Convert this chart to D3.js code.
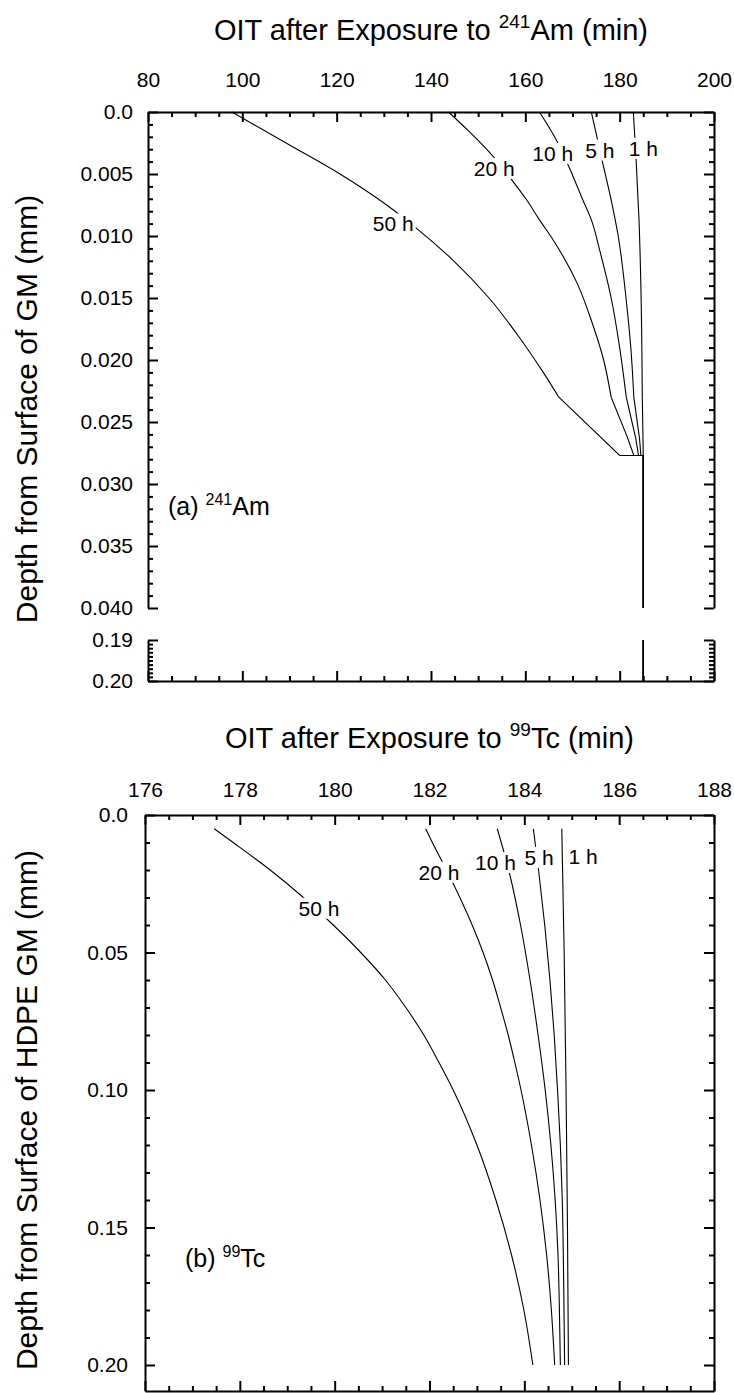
<!DOCTYPE html>
<html><head><meta charset="utf-8">
<script src="https://cdn.jsdelivr.net/npm/d3@7"></script>
<style>
body{margin:0;background:#fff}
svg{display:block}
text{font-family:"Liberation Sans",Arial,Helvetica,sans-serif;fill:#000}
</style></head><body>
<svg id="chart" width="734" height="1393"></svg>
<script>
// ---------------- DATA ----------------
// Panel (a) 241Am : [depth (mm), OIT (min)]
const amSeriesNames = ["50 h","20 h","10 h","5 h","1 h"];
const am50h = [[0,97.8],[0.0027,110.2],[0.005,120.7],[0.0075,130.6],[0.0094,137.0],[0.012,144.8],[0.015,152.3],[0.018,158.4],[0.021,163.8],[0.023,167.1],[0.0277,180.0]];
const am20h = [[0,143.7],[0.00147,147.8],[0.00334,152.6],[0.00561,157.4],[0.0071,160.3],[0.0087,163.0],[0.01032,165.9],[0.01382,171.0],[0.01704,174.2],[0.02,176.6],[0.023,178.2],[0.0262,181.6],[0.0277,183.0]];
const am10h = [[0,163.0],[0.00227,166.6],[0.00455,169.4],[0.0071,172.2],[0.0087,174.0],[0.0112,175.8],[0.015,178.2],[0.019,180.0],[0.023,181.4],[0.0263,183.4],[0.0277,184.0]];
const am5h  = [[0,174.0],[0.0041,176.4],[0.0071,178.2],[0.0098,179.6],[0.0152,181.4],[0.0192,182.4],[0.023,183.0],[0.0263,184.2],[0.0277,184.5]];
const am1h  = [[0,182.9],[0.004,183.5],[0.0087,184.1],[0.0141,184.5],[0.023,184.8],[0.0277,185.0]];
const amKinkDepth = 0.023;
const amBaselineOIT = 185.0;
const amUpperMaxDepth = 0.040;
const amLowerDepths = [0.19, 0.20];
const amLabelPos = [[132.0,0.00903],[153.4,0.00455],[165.8,0.00334],[175.8,0.00307],[185.0,0.00294]]; // [OIT, depth]

// Panel (b) 99Tc : [depth (mm), OIT (min)]
const tcSeriesNames = ["50 h","20 h","10 h","5 h","1 h"];
const tc50h = [[0.005,177.46],[0.01,177.86],[0.02,178.64],[0.03,179.34],[0.04,179.97],[0.05,180.55],[0.06,181.07],[0.07,181.5],[0.08,181.88],[0.09,182.2],[0.10,182.5],[0.12,183.0],[0.14,183.4],[0.16,183.73],[0.18,183.99],[0.2,184.18]];
const tc20h = [[0.005,181.92],[0.01,182.06],[0.02,182.36],[0.03,182.64],[0.04,182.9],[0.05,183.13],[0.06,183.33],[0.07,183.5],[0.08,183.66],[0.09,183.8],[0.10,183.93],[0.12,184.15],[0.14,184.33],[0.16,184.47],[0.18,184.57],[0.2,184.64]];
const tc10h = [[0.005,183.43],[0.02,183.67],[0.04,183.92],[0.06,184.12],[0.08,184.29],[0.10,184.44],[0.12,184.56],[0.14,184.65],[0.16,184.71],[0.18,184.74],[0.2,184.76]];
const tc5h  = [[0.005,184.19],[0.02,184.3],[0.04,184.43],[0.06,184.54],[0.08,184.63],[0.10,184.7],[0.12,184.76],[0.14,184.8],[0.17,184.83],[0.2,184.85]];
const tc1h  = [[0.005,184.79],[0.05,184.84],[0.1,184.88],[0.15,184.91],[0.2,184.93]];
const tcLabelPos = [[179.67,0.0339],[182.2,0.0208],[183.39,0.0173],[184.31,0.0154],[185.24,0.0152]];

// Tick values / labels
const xTicksA = [80,100,120,140,160,180,200];
const xLabelsA = ["80","100","120","140","160","180","200"];
const yTicksAUpper = [0,0.005,0.010,0.015,0.020,0.025,0.030,0.035,0.040];
const yLabelsAUpper = ["0.0","0.005","0.010","0.015","0.020","0.025","0.030","0.035","0.040"];
const yTicksALower = [0.19,0.20];
const yLabelsALower = ["0.19","0.20"];
const xTicksB = [176,178,180,182,184,186,188];
const xLabelsB = ["176","178","180","182","184","186","188"];
const yTicksB = [0,0.05,0.10,0.15,0.20];
const yLabelsB = ["0.0","0.05","0.10","0.15","0.20"];

// ---------------- LAYOUT ----------------
const svg = d3.select("#chart");
const TICK_FS = 21, LABEL_FS = 21, TITLE_FS = 29, YTITLE_FS = 30, PANEL_FS = 25;
const MAJ = 10, MIN = 5;

const A = {l:148, r:714, t:112, uB:608, lT:640, b:681};
const B = {l:145, r:714, t:815, b:1391};

const xA = d3.scaleLinear().domain([80,200]).range([A.l, A.r]);
const yAu = d3.scaleLinear().domain([0,0.04]).range([A.t, A.uB]);
const yAl = d3.scaleLinear().domain([0.19,0.20]).range([A.lT, A.b]);
const xB = d3.scaleLinear().domain([176,188]).range([B.l, B.r]);
const yB = d3.scaleLinear().domain([0,0.2]).range([B.t, 1365]);

function range(a,b,s){const o=[];for(let v=a;v<=b+1e-9;v+=s)o.push(+v.toFixed(6));return o;}

function styleAxis(g, fs){
  g.selectAll("path.domain").attr("stroke","#000").attr("stroke-width",2);
  g.selectAll(".tick line").attr("stroke","#000").attr("stroke-width",2);
  g.selectAll(".tick text").attr("font-size",fs).attr("font-family",'"Liberation Sans",Arial,sans-serif').attr("fill","#000");
  g.attr("font-size",fs);
}
function addAxis(axis, tx, ty, noDomain){
  const g = svg.append("g").attr("transform",`translate(${tx},${ty})`).call(axis);
  styleAxis(g, TICK_FS);
  if(noDomain) g.select("path.domain").remove();
  return g;
}

// ----- Panel A axes -----
const minorA = range(80,200,5).filter(v=>v%20);
addAxis(d3.axisTop(xA).tickValues(xTicksA).tickFormat((d,i)=>xLabelsA[i]).tickSizeInner(-MAJ).tickSizeOuter(0).tickPadding(25), 0, A.t);
addAxis(d3.axisTop(xA).tickValues(minorA).tickFormat("").tickSizeInner(-MIN).tickSizeOuter(0), 0, A.t, true);
addAxis(d3.axisBottom(xA).tickValues(xTicksA).tickFormat("").tickSizeInner(-MAJ).tickSizeOuter(0), 0, A.b);
addAxis(d3.axisBottom(xA).tickValues(minorA).tickFormat("").tickSizeInner(-MIN).tickSizeOuter(0), 0, A.b, true);
const minorAu = range(0,0.04,0.001).filter((v,i)=>i%5);
const minorAl = range(0.19,0.20,0.001).filter((v,i)=>i%10);
addAxis(d3.axisLeft(yAu).tickValues(yTicksAUpper).tickFormat((d,i)=>yLabelsAUpper[i]).tickSizeInner(-MAJ).tickSizeOuter(0).tickPadding(15), A.l, 0);
addAxis(d3.axisLeft(yAu).tickValues(minorAu).tickFormat("").tickSizeInner(-MIN).tickSizeOuter(0), A.l, 0, true);
addAxis(d3.axisLeft(yAl).tickValues(yTicksALower).tickFormat((d,i)=>yLabelsALower[i]).tickSizeInner(-MAJ).tickSizeOuter(0).tickPadding(15), A.l, 0);
addAxis(d3.axisLeft(yAl).tickValues(minorAl).tickFormat("").tickSizeInner(-MIN).tickSizeOuter(0), A.l, 0, true);
addAxis(d3.axisRight(yAu).tickValues(yTicksAUpper).tickFormat("").tickSizeInner(-MAJ).tickSizeOuter(0), A.r, 0);
addAxis(d3.axisRight(yAu).tickValues(minorAu).tickFormat("").tickSizeInner(-MIN).tickSizeOuter(0), A.r, 0, true);
addAxis(d3.axisRight(yAl).tickValues(yTicksALower).tickFormat("").tickSizeInner(-MAJ).tickSizeOuter(0), A.r, 0);
addAxis(d3.axisRight(yAl).tickValues(minorAl).tickFormat("").tickSizeInner(-MIN).tickSizeOuter(0), A.r, 0, true);

// ----- Panel B axes -----
const minorB = range(176,188,0.5).filter(v=>v%2);
addAxis(d3.axisTop(xB).tickValues(xTicksB).tickFormat((d,i)=>xLabelsB[i]).tickSizeInner(-MAJ).tickSizeOuter(0).tickPadding(18), 0, B.t);
addAxis(d3.axisTop(xB).tickValues(minorB).tickFormat("").tickSizeInner(-MIN).tickSizeOuter(0), 0, B.t, true);
addAxis(d3.axisBottom(xB).tickValues(xTicksB).tickFormat("").tickSizeInner(-MAJ).tickSizeOuter(0), 0, B.b);
addAxis(d3.axisBottom(xB).tickValues(minorB).tickFormat("").tickSizeInner(-MIN).tickSizeOuter(0), 0, B.b, true);
const yBfull = yB.copy().domain([0,yB.invert(B.b)]).range([B.t,B.b]);
const minorYB = range(0,0.2,0.01).filter((v,i)=>i%5);
addAxis(d3.axisLeft(yBfull).tickValues(yTicksB).tickFormat((d,i)=>yLabelsB[i]).tickSizeInner(-MAJ).tickSizeOuter(0).tickPadding(17), B.l, 0);
addAxis(d3.axisLeft(yBfull).tickValues(minorYB).tickFormat("").tickSizeInner(-MIN).tickSizeOuter(0), B.l, 0, true);
addAxis(d3.axisRight(yBfull).tickValues(yTicksB).tickFormat("").tickSizeInner(-MAJ).tickSizeOuter(0), B.r, 0);
addAxis(d3.axisRight(yBfull).tickValues(minorYB).tickFormat("").tickSizeInner(-MIN).tickSizeOuter(0), B.r, 0, true);

// ----- Curves -----
const curveG = svg.append("g").attr("fill","none").attr("stroke","#000").attr("stroke-width",1.1);
const lineAu = d3.line().x(d=>xA(d[1])).y(d=>yAu(d[0])).curve(d3.curveMonotoneY);
const lineAuLin = d3.line().x(d=>xA(d[1])).y(d=>yAu(d[0]));
const lineAl = d3.line().x(d=>xA(d[1])).y(d=>yAl(d[0]));
[am50h, am20h, am10h, am5h, am1h].forEach(s=>{
  const smooth = s.filter(d=>d[0] <= amKinkDepth + 1e-9);
  const tail = s.filter(d=>d[0] >= amKinkDepth - 1e-9);
  const last = s[s.length-1];
  curveG.append("path").attr("d", lineAu(smooth));
  curveG.append("path").attr("d", lineAuLin(tail.concat([[last[0],amBaselineOIT],[amUpperMaxDepth,amBaselineOIT]])));
  curveG.append("path").attr("d", lineAl(amLowerDepths.map(d=>[d,amBaselineOIT])));
});
const lineB = d3.line().x(d=>xB(d[1])).y(d=>yB(d[0])).curve(d3.curveMonotoneY);
[tc50h, tc20h, tc10h, tc5h, tc1h].forEach(s=>{
  curveG.append("path").attr("d", lineB(s));
});

// ----- Curve labels with white background -----
function curveLabel(txt, x, y){
  const g = svg.append("g");
  const t = g.append("text").attr("x",x).attr("y",y).attr("text-anchor","middle")
    .attr("dominant-baseline","central").attr("font-size",LABEL_FS).text(txt);
  const bb = t.node().getBBox();
  g.insert("rect","text").attr("x",bb.x-2).attr("y",bb.y+1).attr("width",bb.width+4).attr("height",bb.height-2).attr("fill","#fff");
}
amSeriesNames.forEach((n,i)=>curveLabel(n, xA(amLabelPos[i][0]), yAu(amLabelPos[i][1])));
tcSeriesNames.forEach((n,i)=>curveLabel(n, xB(tcLabelPos[i][0]), yB(tcLabelPos[i][1])));

// ----- Titles -----
function supText(x, y, fs, parts, anchor, rotate){
  const t = svg.append("text").attr("font-size",fs).attr("text-anchor",anchor||"middle");
  if(rotate){ t.attr("transform",`translate(${x},${y}) rotate(-90)`); }
  else { t.attr("x",x).attr("y",y); }
  let raised = false;
  parts.forEach(p=>{
    const ts = t.append("tspan").text(p.t);
    if(p.sup){ ts.attr("font-size",Math.round(fs*0.64)).attr("dy",-fs*0.4); raised = true; }
    else if(raised){ ts.attr("dy",fs*0.4); raised = false; }
  });
  return t;
}
supText((A.l+A.r)/2, 40, TITLE_FS, [{t:"OIT after Exposure to "},{t:"241",sup:true},{t:"Am (min)"}]);
supText((B.l+B.r)/2, 748, TITLE_FS, [{t:"OIT after Exposure to "},{t:"99",sup:true},{t:"Tc (min)"}]);
supText(37, 409, YTITLE_FS, [{t:"Depth from Surface of GM (mm)"}], "middle", true);
supText(37, 1110, YTITLE_FS, [{t:"Depth from Surface of HDPE GM (mm)"}], "middle", true);

// Panel annotations
supText(168, 515, PANEL_FS, [{t:"(a) "},{t:"241",sup:true},{t:"Am"}], "start");
supText(185, 1267, PANEL_FS, [{t:"(b) "},{t:"99",sup:true},{t:"Tc"}], "start");
</script>
</body></html>
